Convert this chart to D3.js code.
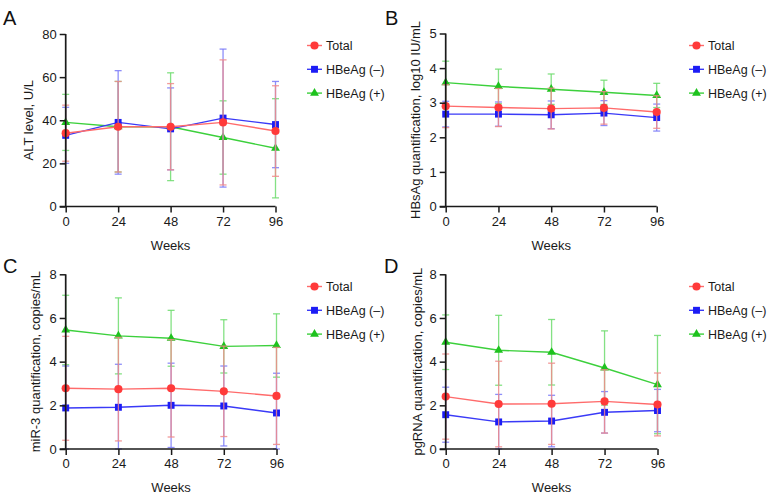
<!DOCTYPE html>
<html><head><meta charset="utf-8">
<script src="https://cdn.jsdelivr.net/npm/d3@7"></script>
<style>body{margin:0;background:#fff;} text{font-family:"Liberation Sans",Arial,Helvetica,sans-serif;}</style>
</head><body>
<svg id="chart" width="767" height="498"></svg>
<script>
const weeks = [0, 24, 48, 72, 96];
const seriesNames = ["Total", "HBeAg (\u2013)", "HBeAg (+)"];

const altTotal = [34, 37, 37, 39, 35];
const altTotalSd = [13, 21, 20, 29, 21];
const altNeg = [33, 39, 36, 41, 38];
const altNegSd = [13, 24, 19, 32, 20];
const altPos = [39, 37, 37, 32, 27];
const altPosSd = [13, 21, 25, 17, 23];

const hbsTotal = [2.90, 2.86, 2.83, 2.85, 2.73];
const hbsTotalSd = [0.62, 0.55, 0.59, 0.47, 0.47];
const hbsNeg = [2.67, 2.67, 2.65, 2.70, 2.57];
const hbsNegSd = [0.37, 0.35, 0.40, 0.36, 0.39];
const hbsPos = [3.58, 3.47, 3.39, 3.30, 3.21];
const hbsPosSd = [0.62, 0.50, 0.44, 0.35, 0.35];

const mirTotal = [2.78, 2.74, 2.78, 2.64, 2.43];
const mirTotalSd = [2.38, 2.37, 2.23, 2.07, 2.22];
const mirNeg = [1.88, 1.91, 2.00, 1.97, 1.65];
const mirNegSd = [1.92, 1.97, 1.93, 1.83, 1.82];
const mirPos = [5.45, 5.18, 5.07, 4.70, 4.74];
const mirPosSd = [1.59, 1.74, 1.28, 1.22, 1.45];

const pgTotal = [2.40, 2.06, 2.07, 2.18, 2.04];
const pgTotalSd = [1.95, 1.96, 1.86, 1.45, 1.44];
const pgNeg = [1.57, 1.24, 1.28, 1.68, 1.76];
const pgNegSd = [1.26, 1.26, 1.18, 0.95, 0.97];
const pgPos = [4.89, 4.52, 4.43, 3.71, 2.95];
const pgPosSd = [1.25, 1.60, 1.50, 1.70, 2.25];

const panels = [
  {letter:"A", title:"ALT level, U/L", yMax:80, yTicks:[0,20,40,60,80],
   data:[[altTotal,altTotalSd],[altNeg,altNegSd],[altPos,altPosSd]],
   x0:65.7, x1:275.5, y0:34, y1:206.5, lx:307, ly:45.5, letterX:3, letterY:25, titleOff:33},
  {letter:"B", title:"HBsAg quantification, log10 IU/mL", yMax:5, yTicks:[0,1,2,3,4,5],
   data:[[hbsTotal,hbsTotalSd],[hbsNeg,hbsNegSd],[hbsPos,hbsPosSd]],
   x0:445.7, x1:656.7, y0:33.5, y1:206.5, lx:689, ly:45.5, letterX:385, letterY:25, titleOff:26},
  {letter:"C", title:"miR-3 quantification, copies/mL", yMax:8, yTicks:[0,2,4,6,8],
   data:[[mirTotal,mirTotalSd],[mirNeg,mirNegSd],[mirPos,mirPosSd]],
   x0:65.7, x1:276.5, y0:274.3, y1:449, lx:307, ly:286.5, letterX:3, letterY:273, titleOff:25.5},
  {letter:"D", title:"pgRNA quantification, copies/mL", yMax:8, yTicks:[0,2,4,6,8],
   data:[[pgTotal,pgTotalSd],[pgNeg,pgNegSd],[pgPos,pgPosSd]],
   x0:445.7, x1:657.5, y0:274.3, y1:449, lx:689, ly:286.5, letterX:384, letterY:273, titleOff:24}
];

const colors = ["#ff3a3a", "#1c1cf5", "#1ec21e"];
const lineColors = ["#ff6b6b", "#3a3af7", "#3cd03c"];
const errColors = ["#f08a8a", "#7a7af8", "#6fdc6f"];
const symbols = [d3.symbolCircle, d3.symbolSquare, d3.symbolTriangle];
const symSizes = [52, 48, 34];

const svg = d3.select("#chart");
const axisColor = "#1a1a1a";

panels.forEach(p => {
  const g = svg.append("g");
  const x = d3.scaleLinear().domain([0, 96]).range([p.x0, p.x1]);
  const y = d3.scaleLinear().domain([0, p.yMax]).range([p.y1, p.y0]);

  [2, 1, 0].forEach(si => {
    const [vals, sds] = p.data[si];
    const sg = g.append("g");
    vals.forEach((v, i) => {
      const hi = Math.min(p.yMax, v + sds[i]);
      const lo = Math.max(0, v - sds[i]);
      const cx = x(weeks[i]);
      sg.append("line").attr("x1", cx).attr("x2", cx).attr("y1", y(hi)).attr("y2", y(lo))
        .attr("stroke", errColors[si]).attr("stroke-width", 1.3).attr("stroke-opacity", 0.85);
      [hi, lo].forEach(e => {
        sg.append("line").attr("x1", cx - 3.5).attr("x2", cx + 3.5).attr("y1", y(e)).attr("y2", y(e))
          .attr("stroke", errColors[si]).attr("stroke-width", 1.3).attr("stroke-opacity", 0.85);
      });
    });
    sg.append("path").datum(vals)
      .attr("d", d3.line().x((d, i) => x(weeks[i])).y(d => y(d)))
      .attr("fill", "none").attr("stroke", lineColors[si]).attr("stroke-width", 1.4);
    sg.selectAll(".m").data(vals).enter().append("path")
      .attr("transform", (d, i) => `translate(${x(weeks[i])},${y(d)})`)
      .attr("d", d3.symbol().type(symbols[si]).size(symSizes[si]))
      .attr("fill", colors[si]);
  });

  const ya = g.append("g").attr("transform", `translate(${p.x0},0)`)
    .call(d3.axisLeft(y).tickValues(p.yTicks).tickSize(6).tickPadding(3).tickFormat(d3.format("d")));
  const xa = g.append("g").attr("transform", `translate(0,${p.y1})`)
    .call(d3.axisBottom(x).tickValues(weeks).tickSize(6).tickPadding(4));
  [ya, xa].forEach(a => {
    a.select(".domain").attr("stroke", axisColor).attr("stroke-width", 1.7);
    a.selectAll(".tick line").attr("stroke", axisColor).attr("stroke-width", 1.5);
    a.selectAll(".tick text").attr("fill", "#1a1a1a").style("font-size", "13px")
      .style("font-family", '"Liberation Sans", Arial, sans-serif');
  });
  ya.select(".domain").attr("d", `M-0,${p.y0}V${p.y1}`);
  xa.select(".domain").attr("d", `M${p.x0 - 6},0H${p.x1}`);

  g.append("text").attr("x", (p.x0 + p.x1) / 2).attr("y", p.y1 + 43)
    .attr("text-anchor", "middle").style("font-size", "13px").attr("fill", "#1a1a1a").text("Weeks");
  g.append("text").attr("transform", `translate(${p.x0 - p.titleOff},${(p.y0 + p.y1) / 2}) rotate(-90)`)
    .attr("text-anchor", "middle").style("font-size", "13px").attr("fill", "#1a1a1a").text(p.title);

  g.append("text").attr("x", p.letterX).attr("y", p.letterY).style("font-size", "20px")
    .attr("fill", "#111").text(p.letter);

  seriesNames.forEach((name, si) => {
    const ly = p.ly + si * 23.8;
    const lg = g.append("g");
    lg.append("line").attr("x1", p.lx).attr("x2", p.lx + 15).attr("y1", ly).attr("y2", ly)
      .attr("stroke", lineColors[si]).attr("stroke-width", 1.4);
    lg.append("path").attr("transform", `translate(${p.lx + 7.5},${ly})`)
      .attr("d", d3.symbol().type(symbols[si]).size(symSizes[si])).attr("fill", colors[si]);
    lg.append("text").attr("x", p.lx + 19).attr("y", ly + 4.5).style("font-size", "12.5px")
      .attr("fill", "#1a1a1a").text(name);
  });
});
</script>
</body></html>
